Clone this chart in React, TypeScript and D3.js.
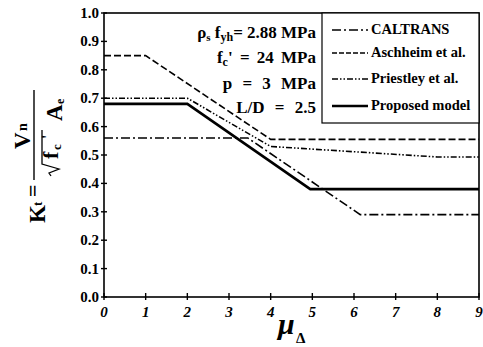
import React from 'react'
import * as d3 from 'd3'

// values
const caltransMu = [0, 3.45, 6.15, 9]
const caltransK = [0.56, 0.56, 0.29, 0.29]
const aschheimMu = [0, 1, 4, 9]
const aschheimK = [0.85, 0.85, 0.555, 0.555]
const priestleyMu = [0, 2, 4, 8, 9]
const priestleyK = [0.7, 0.7, 0.53, 0.493, 0.493]
const proposedMu = [0, 2, 4.95, 9]
const proposedK = [0.68, 0.68, 0.38, 0.38]

const xTicks = [0, 1, 2, 3, 4, 5, 6, 7, 8, 9]
const yTicks = [0, 0.1, 0.2, 0.3, 0.4, 0.5, 0.6, 0.7, 0.8, 0.9, 1.0]

const seriesNames = ['CALTRANS', 'Aschheim et al.', 'Priestley et al.', 'Proposed model']

const W = 483
const H = 347
const font = "'Times New Roman', Times, 'Liberation Serif', Tinos, 'Noto Serif', 'DejaVu Serif', serif"

const series = [
    { name: seriesNames[0], mu: caltransMu, k: caltransK, dash: '9 3 2 3', width: 1.6 },
    { name: seriesNames[1], mu: aschheimMu, k: aschheimK, dash: '7 3', width: 1.6 },
    { name: seriesNames[2], mu: priestleyMu, k: priestleyK, dash: '6 2 1.5 2 1.5 2', width: 1.6 },
    { name: seriesNames[3], mu: proposedMu, k: proposedK, dash: null, width: 2.6 },
]

export default function App() {
    const x = d3.scaleLinear().domain([0, 9]).range([104, 479])
    const y = d3.scaleLinear().domain([0, 1]).range([297, 13])

    const line = d3
        .line<[number, number]>()
        .x((d) => x(d[0]))
        .y((d) => y(d[1]))

    const fmt = d3.format('.1f')

    return (
        <svg width={W} height={H} style={{ position: 'absolute', left: 0, top: 0, background: '#fff' }}>
            {/* curves */}
            {series.map((s) => (
                <path
                    key={s.name}
                    d={line(s.mu.map((m, i) => [m, s.k[i]]))}
                    fill="none"
                    stroke="#000"
                    strokeWidth={s.width}
                    strokeDasharray={s.dash || undefined}
                />
            ))}

            {/* frame */}
            <rect x={x(0)} y={y(1)} width={x(9) - x(0)} height={y(0) - y(1)} fill="none" stroke="#000" strokeWidth={1.6} />

            <g style={{ fontFamily: font }}>
                {/* y ticks */}
                {yTicks.map((t) => (
                    <g key={'y' + t}>
                        <line x1={x(0) - 3} x2={x(0) + 3} y1={y(t)} y2={y(t)} stroke="#000" strokeWidth={1.4} />
                        <text x={x(0) - 5} y={y(t) + 5} textAnchor="end" fontSize={15} fontWeight="bold">
                            {fmt(t)}
                        </text>
                    </g>
                ))}

                {/* x ticks */}
                {xTicks.map((t) => (
                    <g key={'x' + t}>
                        <line x1={x(t)} x2={x(t)} y1={y(0) - 4} y2={y(0) + 3} stroke="#000" strokeWidth={1.4} />
                        <text x={x(t)} y={y(0) + 20} textAnchor="middle" fontSize={15} fontWeight="bold" fontStyle="italic">
                            {t}
                        </text>
                    </g>
                ))}

                {/* x label */}
                <text x={278} y={334} fontSize={30} fontWeight="bold" fontStyle="italic">μ</text>
                <text x={296} y={343} fontSize={15} fontWeight="bold">Δ</text>

                {/* y label, rotated */}
                <g transform="translate(45,223) rotate(-90)" fontWeight="bold">
                    <text x={0} y={0} fontSize={23}>K</text>
                    <text x={17} y={-3} fontSize={13}>t</text>
                    <text x={26} y={-5} fontSize={22}>=</text>
                    <line x1={43} x2={133} y1={-11} y2={-11} stroke="#000" strokeWidth={1.4} />
                    <text x={74} y={-15} fontSize={23}>V</text>
                    <text x={92} y={-18} fontSize={14}>n</text>
                    <path d="M47,6 L50,4 L54,14 L59,-3 L93,-3" fill="none" stroke="#000" strokeWidth={1.3} />
                    <text x={64} y={13} fontSize={22}>f</text>
                    <text x={73} y={16} fontSize={13}>c</text>
                    <text x={84} y={8} fontSize={16}>'</text>
                    <text x={102} y={17} fontSize={23}>A</text>
                    <text x={119} y={19} fontSize={12}>e</text>
                </g>

                {/* parameters */}
                <g fontSize={17} fontWeight="bold" textAnchor="end">
                    <text x={316} y={38}>
                        ρ<tspan fontSize={11} dy={3}>s</tspan>
                        <tspan dy={-3}> f</tspan>
                        <tspan fontSize={12} dy={3}>yh</tspan>
                        <tspan dy={-3}>= 2.88 MPa</tspan>
                    </text>
                    <text x={316} y={63} wordSpacing={3}>
                        f<tspan fontSize={12} dy={3}>c</tspan>
                        <tspan dy={-3}>' = 24 MPa</tspan>
                    </text>
                    <text x={316} y={89} wordSpacing={6}>p = 3 MPa</text>
                    <text x={316} y={113} wordSpacing={6}>L/D = 2.5</text>
                </g>

                {/* legend */}
                <rect x={322} y={y(1)} width={x(9) - 322} height={123 - y(1)} fill="#fff" stroke="#000" strokeWidth={1.2} />
                {series.map((s, i) => {
                    const ly = [30, 53, 79, 106][i]
                    return (
                        <g key={'lg' + s.name}>
                            <line
                                x1={332}
                                x2={368}
                                y1={ly}
                                y2={ly}
                                stroke="#000"
                                strokeWidth={s.width}
                                strokeDasharray={s.dash ? (i === 1 ? '5 2' : s.dash) : undefined}
                            />
                            <text x={371} y={ly + 4} fontSize={14.5} fontWeight="bold">
                                {s.name}
                            </text>
                        </g>
                    )
                })}
            </g>
        </svg>
    )
}
